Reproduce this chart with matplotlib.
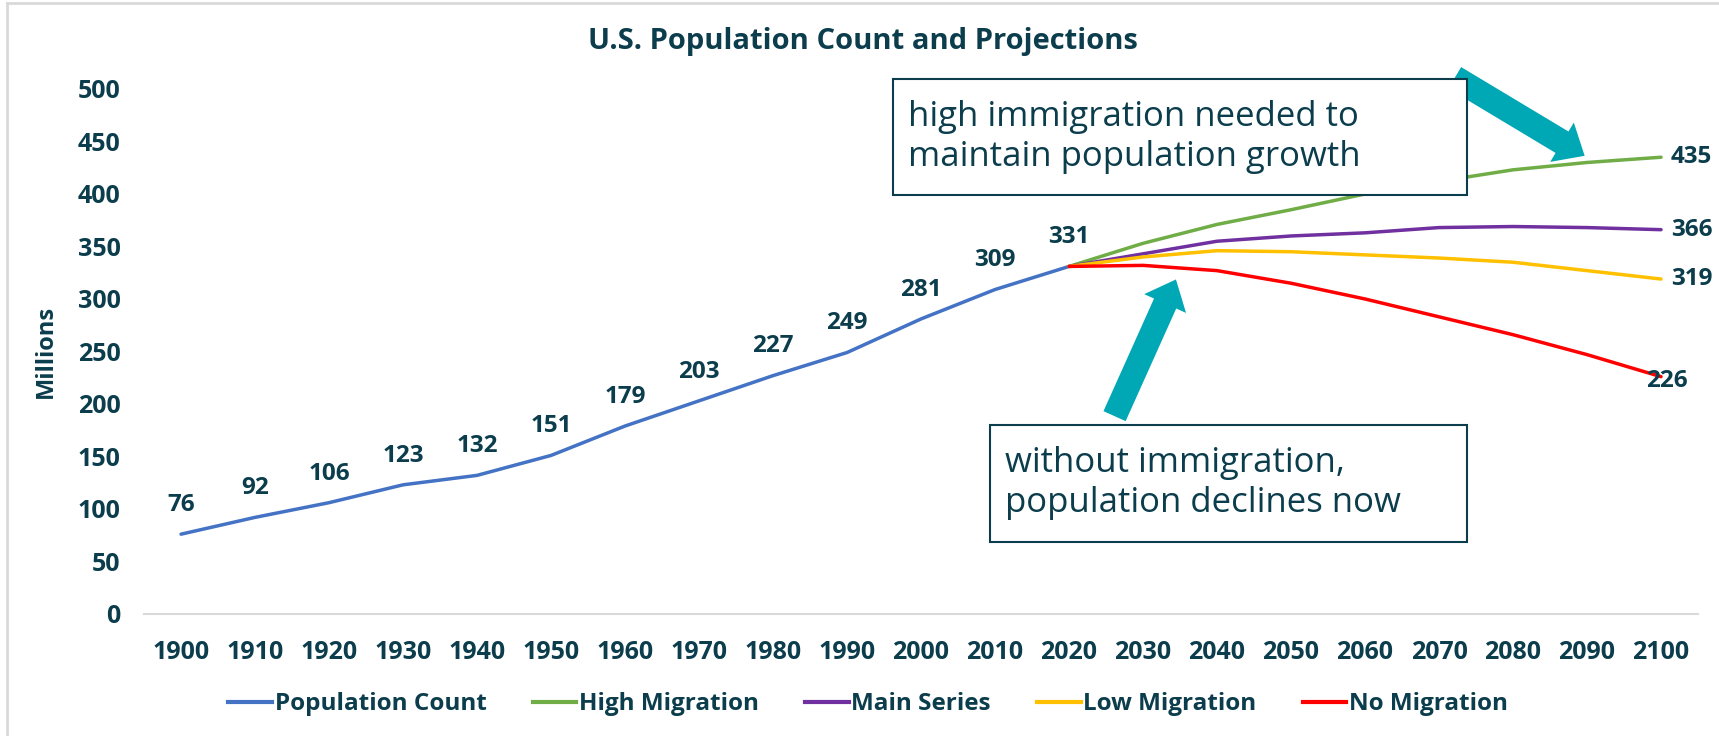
import numpy as np
import matplotlib.pyplot as plt
from matplotlib.patches import FancyArrowPatch, Rectangle
from matplotlib.lines import Line2D

# categories
years = [str(y) for y in range(1900, 2101, 10)]

# census counts 1900-2020 (millions)
population_count = [76, 92, 106, 123, 132, 151, 179, 203, 227, 249, 281, 309, 331]

# projections 2020-2100 (millions)
high_migration = [331, 353, 371, 385, 400, 412, 423, 430, 435]
main_series = [331, 343, 355, 360, 363, 368, 369, 368, 366]
low_migration = [331, 340, 346, 345, 342, 339, 335, 327, 319]
no_migration = [331, 332, 327, 315, 300, 283, 266, 247, 226]

series_names = ["Population Count", "High Migration", "Main Series",
                "Low Migration", "No Migration"]
colors = ["#4472C4", "#70AD47", "#7030A0", "#FFC000", "#FF0000"]

txt = "#0B3D4C"
teal = "#00A7B5"
plt.rcParams['font.family'] = ['Open Sans', 'DejaVu Sans']

fig = plt.figure(figsize=(17.19, 7.36), dpi=100)
ax = fig.add_axes([0.0838, 0.1658, 0.904, 0.7133])

xx = np.arange(len(years))
n0 = len(population_count)
xp = xx[n0 - 1:]

ax.plot(xx[:n0], population_count, color=colors[0], lw=2.5, solid_capstyle='round')
projections = [high_migration, main_series, low_migration, no_migration]
for vals, col in zip(projections, colors[1:]):
    ax.plot(xp, vals, color=col, lw=2.5, solid_capstyle='round')

# data labels above the count line
for x, v in zip(xx[:n0], population_count):
    ax.annotate(str(v), (x, v), xytext=(0, 21), textcoords='offset points',
                ha='center', va='center', fontsize=17.5, fontweight='bold',
                color=txt)

# end labels for the projections
for vals in projections[:3]:
    ax.annotate(str(vals[-1]), (xp[-1], vals[-1]), xytext=(7, 0),
                textcoords='offset points', ha='left', va='center',
                fontsize=17.5, fontweight='bold', color=txt)
ax.annotate(str(no_migration[-1]), (xp[-1], no_migration[-1]), xytext=(4, -3),
            textcoords='offset points', ha='center', va='center',
            fontsize=17.5, fontweight='bold', color=txt)

ax.set_xlim(-0.5, len(years) - 0.5)
ax.set_ylim(0, 500)
ax.set_xticks(xx)
ax.set_xticklabels(years)
ax.set_yticks(np.arange(0, 501, 50))
ax.tick_params(length=0, labelsize=18, labelcolor=txt)
ax.tick_params(axis='x', pad=19)
ax.tick_params(axis='y', pad=17)
for lab in ax.get_xticklabels() + ax.get_yticklabels():
    lab.set_fontweight('bold')
for s in ['top', 'right', 'left']:
    ax.spines[s].set_visible(False)
ax.spines['bottom'].set_color('#D9D9D9')
ax.spines['bottom'].set_linewidth(1.5)

ax.set_ylabel("Millions", fontsize=17, fontweight='bold', color=txt, labelpad=14)
fig.text(0.502, 0.944, "U.S. Population Count and Projections", ha='center',
         va='center', fontsize=21, fontweight='bold', color=txt)

# legend
handles = [Line2D([0], [0], color=c, lw=3) for c in colors]
fig.legend(handles, series_names, loc='center', bbox_to_anchor=(0.505, 0.043),
           ncol=5, frameon=False, handlelength=1.8, handletextpad=0.1,
           columnspacing=1.9, prop={'size': 17.5, 'weight': 'bold'},
           labelcolor=txt)

# callout boxes
fig.patches.append(Rectangle((893 / 1719, 1 - 195 / 736), 574 / 1719, 116 / 736,
                             transform=fig.transFigure, fill=True, fc='white',
                             ec=txt, lw=1.5, zorder=3))
fig.text(908 / 1719, 1 - 137 / 736,
         "high immigration needed to\nmaintain population growth",
         ha='left', va='center', fontsize=25, color=txt, linespacing=1.2,
         zorder=4)
fig.patches.append(Rectangle((990 / 1719, 1 - 542 / 736), 477 / 1719, 117 / 736,
                             transform=fig.transFigure, fill=True, fc='white',
                             ec=txt, lw=1.5, zorder=3))
fig.text(1005 / 1719, 1 - 483 / 736,
         "without immigration,\npopulation declines now",
         ha='left', va='center', fontsize=25, color=txt, linespacing=1.2,
         zorder=4)

# arrows
a1 = FancyArrowPatch((17.18, 512), (19.0, 435),
                     arrowstyle="simple,head_length=1.9,head_width=3.3,tail_width=1.8",
                     mutation_scale=10, color=teal, lw=0, clip_on=False,
                     zorder=5)
a2 = FancyArrowPatch((12.6, 186), (13.46, 321),
                     arrowstyle="simple,head_length=1.9,head_width=3.3,tail_width=1.75",
                     mutation_scale=10, color=teal, lw=0, clip_on=False,
                     zorder=5)
ax.add_patch(a1)
ax.add_patch(a2)

# outer frame
fig.add_artist(Line2D([7 / 1719, 7 / 1719], [0, 1 - 3 / 736], color='#D9D9D9',
                      lw=2, transform=fig.transFigure))
fig.add_artist(Line2D([7 / 1719, 1], [1 - 3 / 736, 1 - 3 / 736], color='#D9D9D9',
                      lw=2, transform=fig.transFigure))

fig.savefig("out.png", dpi=100)
